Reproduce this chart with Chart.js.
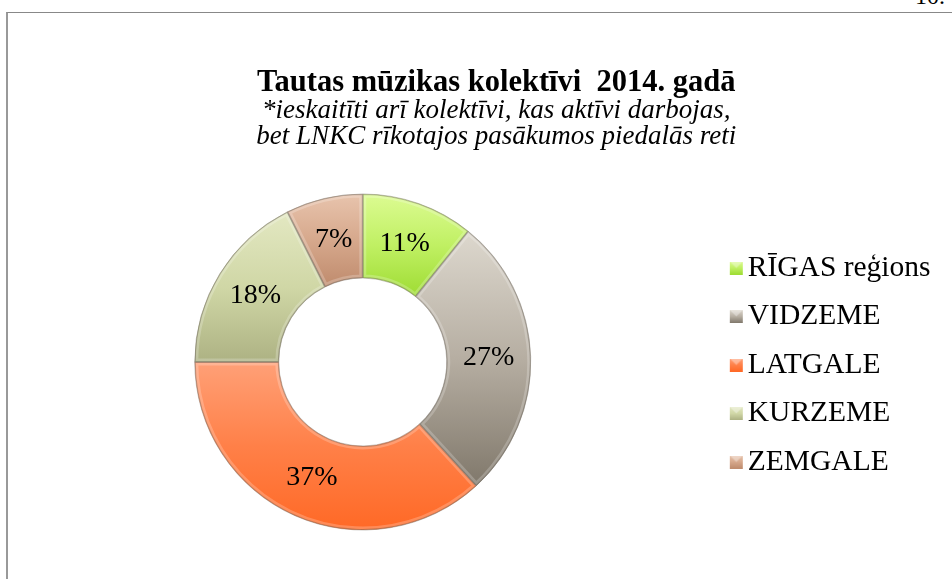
<!DOCTYPE html>
<html>
<head>
<meta charset="utf-8">
<script src="https://cdn.jsdelivr.net/npm/chart.js@4/dist/chart.umd.min.js"></script>
<style>
html,body{margin:0;padding:0;overflow:hidden;background:#fff;width:952px;height:579px;}
#frame{position:absolute;left:6px;top:12px;width:1000px;height:640px;border-left:2px solid #999;border-top:1px solid #888;}
#wrap{position:absolute;left:8px;top:12px;width:978px;height:600px;}
#pg{position:absolute;left:915px;top:-17px;font:24px 'Liberation Serif',serif;color:#000;}
</style>
</head>
<body>
<div id="pg">10.</div>
<div id="frame"></div>
<div id="wrap"><canvas id="c" width="978" height="600"></canvas></div>
<script>
// ---- data ----
const categories = ['RĪGAS reģions', 'VIDZEME', 'LATGALE', 'KURZEME', 'ZEMGALE'];
const shares = [10.8, 27.4, 36.8, 17.6, 7.4];
const titleText = 'Tautas mūzikas kolektīvi  2014. gadā';
const subtitleLines = ['*ieskaitīti arī kolektīvi, kas aktīvi darbojas,', 'bet LNKC rīkotajos pasākumos piedalās reti'];

// ---- styles ----
const topColors = ['#dcfb92', '#ddd8ce', '#ffa077', '#e3e8c2', '#e8c4ad'];
const midColors = ['#c0f063', '#b6aea2', '#ff8048', '#d0d7a6', '#d6a88c'];
const botColors = ['#9edc33', '#80786b', '#ff6926', '#adb283', '#bf8b6d'];
const serif = "'Liberation Serif', 'Times New Roman', serif";

function makeMarker(i) {
  const c = document.createElement('canvas');
  c.width = 74; c.height = 13;
  const x = c.getContext('2d');
  const g = x.createLinearGradient(0, 0, 0, 13);
  g.addColorStop(0, topColors[i]); g.addColorStop(0.5, midColors[i]); g.addColorStop(1, botColors[i]);
  x.fillStyle = g;
  x.fillRect(54, 0, 13, 13);
  x.fillStyle = 'rgba(255,255,255,0.35)';
  x.beginPath(); x.moveTo(54, 0); x.lineTo(67, 0); x.lineTo(60.5, 6.5); x.closePath(); x.fill();
  return c;
}
const markers = categories.map((_, i) => makeMarker(i));

const slicePaint = {
  id: 'slicePaint',
  beforeDatasetsDraw(chart) {
    const meta = chart.getDatasetMeta(0);
    meta.data.forEach((arc, i) => {
      const p = arc.getProps(['x', 'y', 'startAngle', 'endAngle', 'innerRadius', 'outerRadius'], true);
      const angs = [p.startAngle, p.endAngle];
      for (let k = -2; k <= 2; k++) {
        [-Math.PI / 2, Math.PI / 2].forEach(a => {
          const aa = a + 2 * Math.PI * k;
          if (aa > p.startAngle && aa < p.endAngle) angs.push(aa);
        });
      }
      const ys = [];
      angs.forEach(a => { ys.push(p.y + Math.sin(a) * p.outerRadius, p.y + Math.sin(a) * p.innerRadius); });
      const y0 = Math.min(...ys), y1 = Math.max(...ys);
      const g = chart.ctx.createLinearGradient(0, y0, 0, y1);
      g.addColorStop(0, topColors[i]); g.addColorStop(0.5, midColors[i]); g.addColorStop(1, botColors[i]);
      arc.options.backgroundColor = g;
    });
  },
  afterDatasetsDraw(chart) {
    // soft bevel highlight along each slice's edges
    const {ctx} = chart;
    chart.getDatasetMeta(0).data.forEach((arc) => {
      const p = arc.getProps(['x', 'y', 'startAngle', 'endAngle', 'innerRadius', 'outerRadius'], true);
      ctx.save();
      ctx.beginPath();
      ctx.arc(p.x, p.y, p.outerRadius, p.startAngle, p.endAngle);
      ctx.arc(p.x, p.y, p.innerRadius, p.endAngle, p.startAngle, true);
      ctx.closePath();
      ctx.clip();
      ctx.lineWidth = 7;
      ctx.strokeStyle = 'rgba(255,255,255,0.22)';
      ctx.stroke();
      ctx.lineWidth = 2;
      ctx.strokeStyle = 'rgba(60,50,40,0.25)';
      ctx.stroke();
      ctx.restore();
    });
  }
};

const pctLabels = {
  id: 'pctLabels',
  afterDatasetsDraw(chart) {
    const {ctx} = chart;
    const meta = chart.getDatasetMeta(0);
    const data = chart.data.datasets[0].data;
    const total = data.reduce((a, b) => a + b, 0);
    ctx.save();
    ctx.font = '28px ' + serif;
    ctx.fillStyle = '#000';
    ctx.textAlign = 'center';
    ctx.textBaseline = 'middle';
    meta.data.forEach((arc, i) => {
      const c = arc.getCenterPoint();
      ctx.fillText(Math.round(data[i] / total * 100) + '%', c.x, c.y);
    });
    ctx.restore();
  }
};

new Chart(document.getElementById('c'), {
  type: 'doughnut',
  data: {
    labels: categories,
    datasets: [{
      data: shares,
      backgroundColor: midColors,
      borderColor: 'rgba(90,80,70,0.35)',
      borderWidth: 1,
      radius: 168,
      cutout: '50%'
    }]
  },
  options: {
    responsive: false,
    animation: false,
    devicePixelRatio: 1,
    layout: {padding: {left: 44, right: 45.5, top: 0, bottom: 47.5}},
    plugins: {
      tooltip: {enabled: false},
      title: {
        display: true, text: titleText, color: '#000',
        font: {family: serif, size: 30.5, weight: 'bold', lineHeight: 1},
        padding: {top: 56, bottom: -1}
      },
      subtitle: {
        display: true, text: subtitleLines, color: '#000',
        font: {family: serif, size: 27, style: 'italic', lineHeight: 0.963},
        padding: {top: 0, bottom: 10}
      },
      legend: {
        position: 'right',
        title: {display: true, text: '', font: {size: 1, lineHeight: 1}, padding: {top: 152.5, bottom: 0}},
        labels: {
          usePointStyle: true,
          pointStyleWidth: 40.5,
          boxWidth: 40.5,
          boxHeight: 13,
          padding: 19,
          color: '#000',
          font: {family: serif, size: 29.5},
          generateLabels: (chart) => chart.data.labels.map((t, i) => ({
            text: t, fillStyle: midColors[i], strokeStyle: midColors[i], lineWidth: 0,
            pointStyle: markers[i], fontColor: '#000', hidden: false, index: i
          }))
        }
      }
    }
  },
  plugins: [slicePaint, pctLabels]
});
</script>
</body>
</html>
